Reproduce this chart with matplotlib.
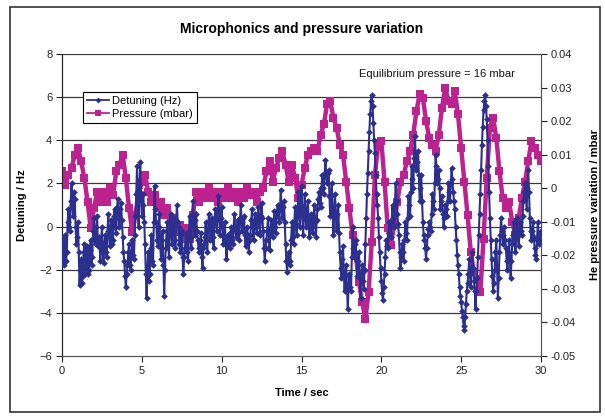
import numpy as np
import matplotlib
matplotlib.use("Agg")
import matplotlib.pyplot as plt
from matplotlib.patches import Rectangle

plt.rcParams['font.family'] = ['Liberation Sans', 'DejaVu Sans']

# Detuning samples (Hz) at t = 0.0, 0.1, ... 30.0 s
detuning_hz = [
    -0.6, -1.8, -0.4, -1.2, 0.8, -0.2, 2.0, 0.5, 1.3, -0.8,
    0.2, -2.7, -1.5, -2.3, -0.8, -1.9, -1.0, -2.0, -0.6, -1.4,
    0.4, -0.8, 0.5, -0.5, -1.6, 0.0, -1.7, -0.4, -1.4, 0.6,
    -0.9, 0.3, -0.6, 0.8, -0.3, 1.3, 0.0, 1.1, -0.5, -1.6,
    -2.8, -1.8, -0.8, -2.0, -0.6, -1.5, 0.5, 2.8, 0.0, 3.0,
    0.5, 1.5, -0.8, -3.3, -1.2, -2.2, -0.4, -1.8, 1.9, 0.2,
    -0.9, 0.6, -1.5, -0.2, -3.2, -1.0, 0.2, -1.4, 0.6, -0.8,
    0.4, -1.0, 1.0, 0.0, -1.2, -0.2, -2.2, -1.0, -0.3, -1.6,
    0.5, -1.0, 1.2, -0.4, 0.6, -0.6, -1.2, -0.3, -1.9, -0.8,
    0.2, -1.2, 0.6, -0.6, 0.4, -1.0, 0.8, -0.2, 1.4, -0.4,
    0.9, -0.8, 0.2, -1.5, -0.4, -1.0, 0.0, -0.8, 0.6, -0.5,
    0.3, -0.6, 1.0, -0.2, 0.5, -0.9, 0.0, -1.2, -0.4, 0.8,
    -0.6, 0.6, -0.3, 0.9, -0.4, 1.1, -0.2, -1.6, -0.6, 0.4,
    -1.1, 0.3, -0.5, 0.7, -0.3, 1.0, 0.2, 1.7, 0.4, 1.2,
    -0.8, -2.1, -1.2, -1.6, 0.2, -0.8, 0.9, -0.4, 1.6, 0.0,
    1.9, -0.4, 1.5, 0.0, 1.2, -0.5, 0.6, -0.3, 1.0, -0.5,
    0.8, 1.6, 0.9, 2.4, 1.5, 3.1, 2.0, 2.6, 0.5, 2.0,
    -0.4, 1.5, -0.2, 1.0, -1.2, -2.4, -0.9, -3.0, -1.8, -3.8,
    -2.2, -3.0, 0.0, -1.4, -0.6, -2.3, -1.2, -3.3, -1.8, -2.9,
    -0.8, 1.5, 3.5, 5.2, 6.1, 4.8, 3.4, 1.5, 0.4, -1.2,
    -2.5, -3.4, -2.2, -0.6, -1.0, 0.2, -0.5, 1.0, 0.0, 2.0,
    0.6, -0.4, -1.9, -0.8, -1.6, 0.2, -0.6, 1.4, 0.5, 2.8,
    1.8, 4.2, 2.6, 3.5, 1.2, 2.4, 0.2, -0.6, -1.5, -0.4,
    0.2, -0.2, 1.5, 0.8, 3.3, 2.0, 2.6, 0.8, 1.4, 0.0,
    1.0, 0.5, 2.0, 1.2, 2.7, 1.6, 0.8, -0.6, -1.8, -2.8,
    -3.5, -4.2, -4.8, -3.6, -2.6, -1.5, -2.8, -1.2, -2.5, -3.8,
    -2.4, -0.4, 1.5, 3.8, 5.4, 6.1, 5.0, 2.8, 0.4, -1.5,
    -3.0, -2.0, -0.6, -3.3, -1.2, 0.4, -0.8, 0.0, -1.0, -2.0,
    -0.6, -2.4, -0.8, 0.2, -1.2, 0.4, -0.9, 0.2, -0.4, 1.2,
    2.0, 0.8, 2.6, 0.4, -0.6, 0.2, -1.0, -1.5, 0.2, -0.8,
    -0.2,
]

# Detuning samples (Hz) at t = 0.05, 0.15, ... 29.95 s
detuning_hz_mid = [
    -1.5, -0.5, -1.6, 0.2, 0.0, 1.2, 1.0, 1.6, 0.0, -0.5,
    -1.2, -2.0, -2.6, -1.2, -2.2, -0.9, -2.2, -1.1, -1.8, -0.2,
    -0.6, 0.0, -0.9, -0.8, -0.7, -1.2, -0.8, -1.2, -0.2, -0.4,
    0.0, -0.8, 0.5, 0.0, 0.9, 0.4, 0.8, 0.3, -1.2, -2.3,
    -2.2, -1.2, -1.8, -1.2, -1.3, -0.4, 1.5, 1.2, 1.8, 1.4,
    1.0, 0.2, -2.2, -2.0, -2.5, -1.0, -1.6, 0.2, 0.8, -0.6,
    0.0, -0.9, -0.6, -1.8, -2.0, -0.2, -0.8, -0.2, -0.4, 0.1,
    -0.6, 0.3, 0.2, -0.8, -0.4, -1.4, -1.4, -0.4, -1.2, -0.4,
    -0.5, 0.4, 0.3, 0.3, -0.2, -1.0, -0.6, -1.4, -1.0, -0.5,
    -0.6, -0.1, 0.2, -0.1, -0.5, 0.2, 0.3, 0.8, 0.4, 0.4,
    0.0, -0.5, -0.7, -0.9, -0.8, -0.3, -0.6, 0.0, -0.1, -0.2,
    -0.3, 0.4, 0.2, 0.4, -0.4, -0.3, -0.7, -0.6, 0.3, 0.0,
    0.1, 0.0, 0.4, 0.2, 0.5, 0.4, -1.0, -1.0, -0.2, -0.4,
    -0.3, -0.2, 0.2, 0.0, 0.5, 0.7, 0.8, 1.0, 0.9, 0.2,
    -1.6, -1.5, -1.8, -0.6, -0.5, 0.2, 0.1, 0.7, 0.6, 1.0,
    0.6, 0.4, 0.8, 0.5, 0.2, 0.2, 0.0, 0.4, 0.2, 0.3,
    1.3, 1.1, 1.8, 1.8, 2.5, 2.4, 2.5, 1.4, 1.4, 0.6,
    0.7, 0.5, 0.6, -0.3, -1.9, -1.5, -2.2, -2.3, -2.9, -2.8,
    -2.8, -1.4, -1.0, -0.8, -1.6, -1.6, -2.4, -2.4, -2.5, -2.0,
    0.4, 2.5, 4.4, 5.8, 5.6, 4.0, 2.4, 1.0, -0.5, -1.9,
    -3.1, -2.8, -1.4, -0.9, -0.3, -0.3, 0.3, 0.4, 1.0, 1.2,
    0.1, -1.2, -1.4, -1.2, -0.6, -0.3, 0.4, 1.0, 1.6, 2.2,
    3.2, 3.4, 3.0, 2.4, 1.8, 1.2, -0.4, -1.0, -1.0, -0.1,
    0.0, 0.6, 1.2, 2.0, 2.8, 2.2, 1.8, 1.2, 0.6, 0.4,
    0.8, 1.2, 1.6, 2.0, 2.2, 1.2, 0.0, -1.3, -2.2, -3.2,
    -3.9, -4.6, -4.2, -3.0, -2.2, -2.2, -2.0, -1.9, -3.0, -3.0,
    -1.4, 0.6, 2.6, 4.6, 5.8, 5.6, 4.0, 1.6, -0.6, -2.3,
    -2.6, -1.2, -2.0, -2.4, -0.4, -0.2, -0.4, -0.6, -1.6, -1.2,
    -1.6, -1.6, -0.4, -0.6, -0.4, -0.3, -0.4, -0.2, 0.5, 1.6,
    1.4, 1.8, 1.6, -0.2, -0.2, -0.5, -1.3, -0.6, -0.4, -0.6,
]

# He pressure variation (mbar) at t = 0.0, 0.2, ... 30.0 s
pressure_mbar = [
    0.005, 0.001, 0.004, 0.006, 0.010, 0.012, 0.008, 0.003, -0.004, -0.012,
    -0.006, -0.001, -0.004, -0.001, -0.004, 0.000, -0.002, 0.005, 0.007, 0.010,
    0.003, -0.006, -0.013, -0.008, -0.002, 0.002, 0.004, -0.001, -0.004, -0.002,
    -0.006, -0.004, -0.008, -0.006, -0.011, -0.009, -0.013, -0.011, -0.015, -0.012,
    -0.015, -0.008, -0.001, -0.004, -0.001, -0.003, 0.000, -0.003, -0.001, -0.004,
    -0.001, -0.003, 0.000, -0.003, -0.001, -0.004, -0.001, -0.003, 0.000, -0.002,
    -0.001, -0.004, -0.001, 0.000, 0.005, 0.008, 0.002, 0.006, 0.009, 0.011,
    0.007, 0.002, 0.007, 0.003, -0.003, 0.001, 0.006, 0.010, 0.011, 0.012,
    0.011, 0.016, 0.019, 0.025, 0.026, 0.021, 0.018, 0.013, 0.010, 0.002,
    -0.006, -0.014, -0.020, -0.028, -0.034, -0.039, -0.031, -0.016, 0.004, 0.013,
    0.014, 0.002, -0.012, -0.017, -0.011, -0.004, 0.002, 0.004, 0.008, 0.011,
    0.016, 0.023, 0.028, 0.027, 0.020, 0.015, 0.013, 0.011, 0.016, 0.024,
    0.030, 0.026, 0.025, 0.029, 0.022, 0.012, 0.002, -0.008, -0.019, -0.025,
    -0.027, -0.031, -0.015, 0.003, 0.018, 0.021, 0.015, 0.005, -0.003, -0.006,
    -0.004, -0.010, -0.014, -0.009, -0.003, 0.002, 0.008, 0.014, 0.012, 0.010,
    0.008,
]

x_ticks = [0, 5, 10, 15, 20, 25, 30]
left_ticks = [-6, -4, -2, 0, 2, 4, 6, 8]
right_ticks = [-0.05, -0.04, -0.03, -0.02, -0.01, 0, 0.01, 0.02, 0.03, 0.04]
right_labels = ['-0.05', '-0.04', '-0.03', '-0.02', '-0.01', '0',
                '0.01', '0.02', '0.03', '0.04']

# Merge the two detuning sample sets into one time-ordered trace
t_on = np.arange(len(detuning_hz)) * 0.1
t_mid = np.arange(len(detuning_hz_mid)) * 0.1 + 0.05
t_det = np.concatenate([t_on, t_mid])
v_det = np.concatenate([detuning_hz, detuning_hz_mid])
order = np.argsort(t_det)
t_det, v_det = t_det[order], v_det[order]

t_pre = np.arange(len(pressure_mbar)) * 0.2

det_color = '#2B2F8E'
pre_color = '#BC2390'
plot_bg = '#CFCFCF'

fig = plt.figure(figsize=(6.05, 4.18), dpi=100)
fig.patch.set_facecolor('white')
fig.patches.append(Rectangle((10 / 605, 1 - 412 / 418), 590 / 605, 405 / 418,
                             transform=fig.transFigure, fill=False,
                             edgecolor='#333333', linewidth=1.2))

ax = fig.add_axes([62 / 605, 1 - 356 / 418, 479 / 605, 302 / 418])
ax.set_xlim(0, 30)
ax.set_ylim(-6, 8)
ax.set_xticks(x_ticks)
ax.set_yticks(left_ticks)

ax2 = ax.twinx()
ax2.set_ylim(-0.05, 0.04)
ax2.set_yticks(right_ticks)
ax2.set_yticklabels(right_labels)

# Pressure axis sits underneath so the detuning trace is drawn on top
ax.set_zorder(2)
ax2.set_zorder(1)
ax.patch.set_visible(False)
ax2.set_facecolor(plot_bg)

# Horizontal gridlines at the detuning ticks
for v in left_ticks[1:]:
    ax2.axhline(-0.05 + (v + 6) * (0.09 / 14), color='#3a3a3a',
                linewidth=0.9, zorder=1)

ax2.plot(t_pre, pressure_mbar, color=pre_color, linewidth=3.2,
         marker='s', markersize=5.8, markeredgewidth=0, zorder=3)
ax.plot(t_det, v_det, color=det_color, linewidth=1.5,
        marker='D', markersize=3.4, markeredgewidth=0, zorder=4)

# Legend built from line proxies
h1, = ax.plot([], [], color=det_color, linewidth=1.3, marker='D',
              markersize=3, markeredgewidth=0, label='Detuning (Hz)')
h2, = ax.plot([], [], color=pre_color, linewidth=1.3, marker='s',
              markersize=4, markeredgewidth=0, label='Pressure (mbar)')
leg = ax.legend(handles=[h1, h2], loc='upper left',
                bbox_to_anchor=(21 / 479, 1 - 38 / 302), fontsize=8,
                frameon=True, fancybox=False, edgecolor='black',
                framealpha=1, borderpad=0.35, handlelength=2.0,
                handletextpad=0.3, labelspacing=0.25, borderaxespad=0)
leg.get_frame().set_linewidth(0.8)
leg.set_zorder(10)

for a in (ax, ax2):
    a.spines['top'].set_visible(False)
    a.spines['left'].set_color('#222222')
    a.spines['right'].set_color('#555555')
    a.spines['bottom'].set_color('#555555')

ax.tick_params(axis='both', direction='out', length=4, width=0.8,
               labelsize=8, colors='#222222', pad=3)
ax2.tick_params(axis='y', direction='out', length=4, width=0.8,
                labelsize=8, colors='#222222', pad=3)

ax.set_xlabel('Time / sec', fontsize=8, fontweight='bold', labelpad=9)
ax.set_ylabel('Detuning / Hz', fontsize=8, fontweight='bold', labelpad=9)
ax2.set_ylabel('He pressure variation / mbar', fontsize=8,
               fontweight='bold', labelpad=10, rotation=90)

ax.text(0.945, 0.935, 'Equilibrium pressure = 16 mbar', transform=ax.transAxes,
        ha='right', va='center', fontsize=8, color='#111111', zorder=5)

fig.text(302 / 605, 1 - 29 / 418, 'Microphonics and pressure variation',
         ha='center', va='center', fontsize=10, fontweight='bold')

fig.savefig('out.png', dpi=100)
